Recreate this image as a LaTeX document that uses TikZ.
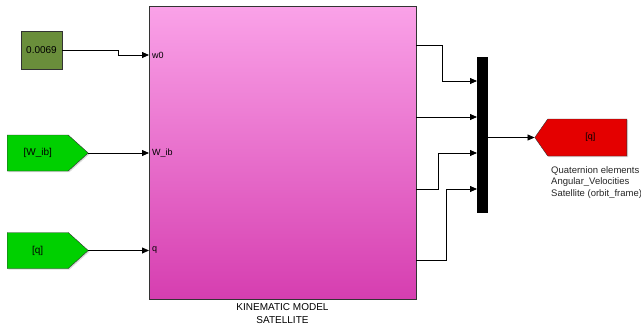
\documentclass[tikz,border=0pt]{standalone}
\usepackage{fontspec}
\setmainfont{Liberation Sans}
\usetikzlibrary{shapes.symbols,arrows.meta,positioning,shadows}
\definecolor{constgreen}{RGB}{106,142,59}
\definecolor{gotogreen}{RGB}{0,208,0}
\definecolor{gotored}{RGB}{228,0,0}
\definecolor{pinktop}{RGB}{250,162,232}
\definecolor{pinkbottom}{RGB}{214,62,176}

\begin{document}
\begin{tikzpicture}[
    x=1pt, y=-1pt,
    font=\fontsize{10}{12}\selectfont,
    every node/.style={align=center},
    blockshadow/.style={drop shadow={shadow xshift=1.2pt, shadow yshift=-1.2pt, opacity=0.3}},
    constant/.style={rectangle, minimum width=41pt, minimum height=38pt, inner sep=0pt, draw=black!80, fill=constgreen, blockshadow},
    subsystem/.style={rectangle, minimum width=267pt, minimum height=293pt, draw=black!80, top color=pinktop, bottom color=pinkbottom, blockshadow},
    gotoblock/.style={signal, signal to=east, signal pointer angle=84, minimum width=81pt, minimum height=36pt, inner sep=0pt, draw=black!80, fill=gotogreen, blockshadow},
    fromblock/.style={signal, signal to=west, signal pointer angle=110, minimum width=92pt, minimum height=37pt, inner sep=0pt, draw=black!80, fill=gotored, blockshadow, font=\fontsize{9}{11}\selectfont},
    mux/.style={rectangle, minimum width=11pt, minimum height=156pt, inner sep=0pt, fill=black},
    port/.style={inner sep=3pt, font=\fontsize{9}{11}\selectfont},
    note/.style={align=left, inner sep=0pt, font=\fontsize{9.5}{11.5}\selectfont, text=black!85},
    wire/.style={line width=0.8pt, -{Triangle[length=7pt,width=6pt]}}
]
\useasboundingbox (0,0) rectangle (641,327);

% Blocks
\node[constant] (w0const) at (41.5,50) {0.0069};
\node[subsystem] (kinematic) at (282.5,152.5) {};
\node[gotoblock, anchor=west] (wibgoto) at (7,153) {[W\_ib]};
\node[gotoblock, anchor=west] (qgoto) at (7,250.5) {[q]};
\node[mux] (mux) at (482.5,135) {};
\node[fromblock, anchor=east] (qfrom) at (627,137.5) {\kern6pt[q]};

% Ports of the model
\coordinate (kin-in1) at (149,55);
\coordinate (kin-in2) at (149,153);
\coordinate (kin-in3) at (149,250.5);
\coordinate (kin-out1) at (416,45);
\coordinate (kin-out2) at (416,117);
\coordinate (kin-out3) at (416,189);
\coordinate (kin-out4) at (416,260);
\node[port, anchor=west] (lbl-w0) at (kin-in1) {w0};
\node[port, anchor=west] (lbl-wib) at (kin-in2) {W\_ib};
\node[port, anchor=west] (lbl-q) at (kin-in3) {q};

% Mux inputs
\coordinate (mux-in1) at (477,81);
\coordinate (mux-in2) at (477,117);
\coordinate (mux-in3) at (477,153);
\coordinate (mux-in4) at (477,189);

% Labels
\node[below=1pt of kinematic, font=\fontsize{10}{12.5}\selectfont] (kin-caption) {KINEMATIC MODEL\\SATELLITE};
\node[note, anchor=north west] (qnote) at (551,166) {Quaternion elements\\Angular\_Velocities\\Satellite (orbit\_frame)};

% Connections
\draw[wire] (w0const.east) -- ++(56,0) |- (kin-in1);
\draw[wire] (wibgoto.east) -- (kin-in2);
\draw[wire] (qgoto.east) -- (kin-in3);
\draw[wire] (kin-out1) -- ++(26,0) |- (mux-in1);
\draw[wire] (kin-out2) -- (mux-in2);
\draw[wire] (kin-out3) -- ++(22,0) |- (mux-in3);
\draw[wire] (kin-out4) -- ++(30,0) |- (mux-in4);
\draw[wire] (mux.east |- qfrom.west) -- (qfrom.west);

\end{tikzpicture}
\end{document}
